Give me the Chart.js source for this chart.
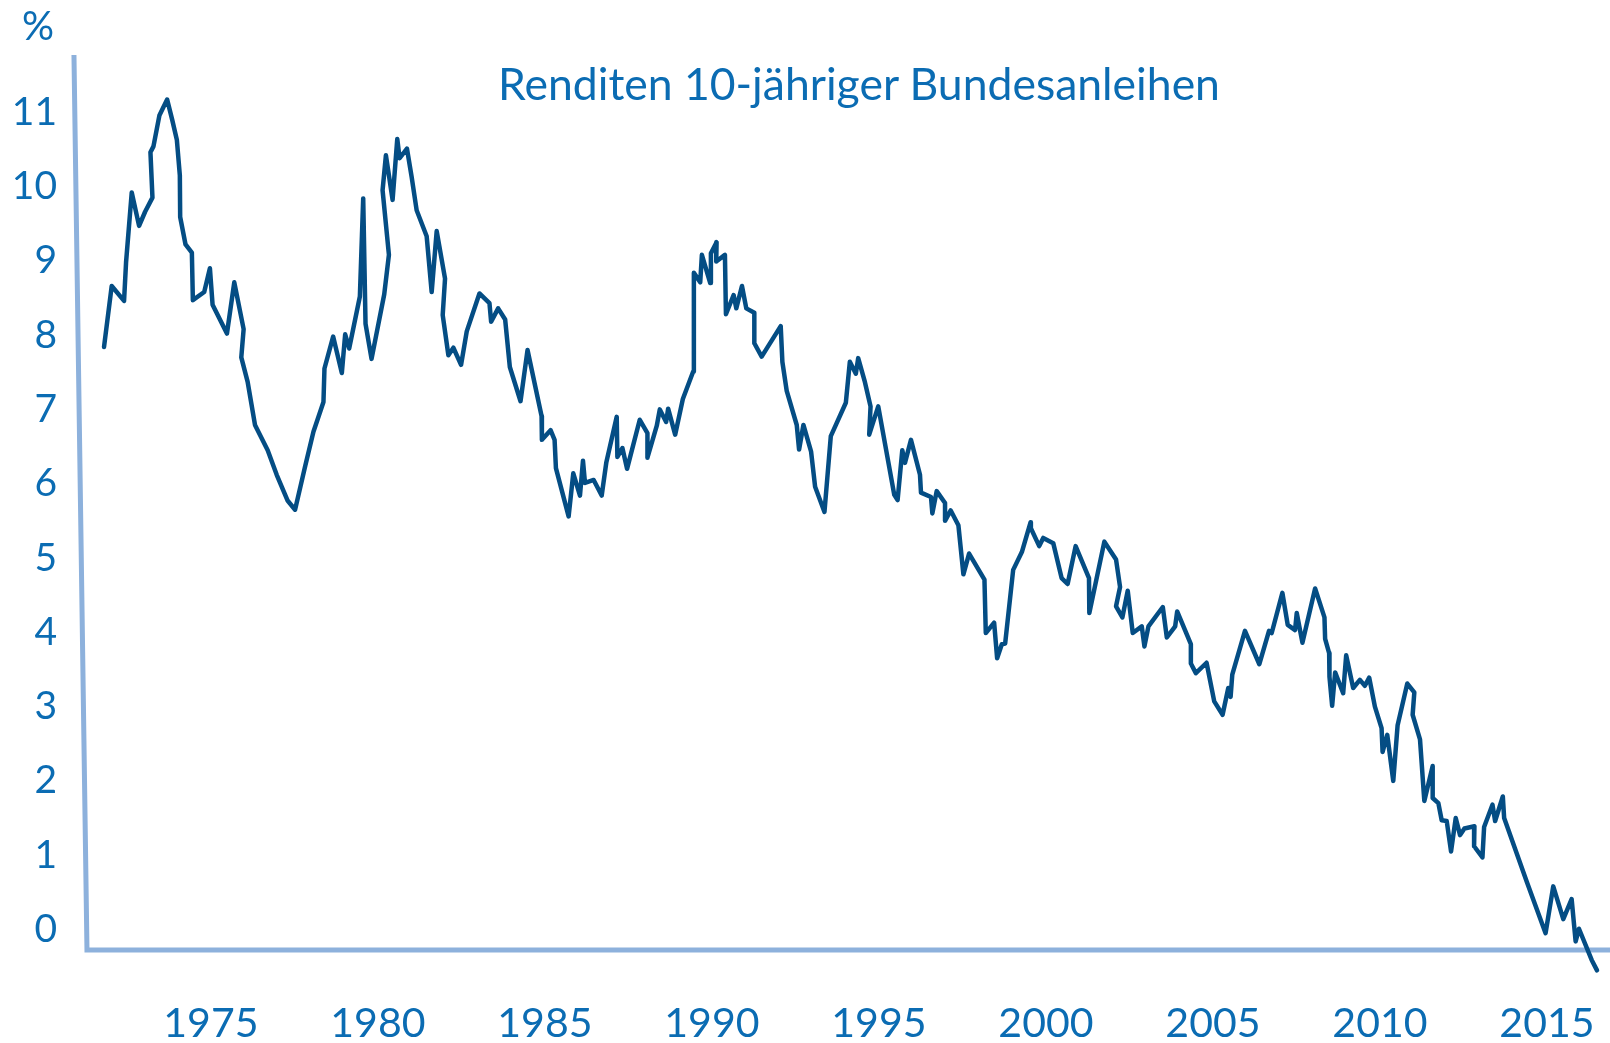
<!DOCTYPE html>
<html>
<head>
<meta charset="utf-8">
<script src="https://cdn.jsdelivr.net/npm/chart.js@4.4.1/dist/chart.umd.min.js"></script>
<style>
  html, body { margin: 0; padding: 0; background: #ffffff; }
  #wrap { position: relative; width: 1610px; height: 1043px; overflow: hidden; }
  #c { display: block; }
  .txt { position: absolute; font-family: Lato, "Open Sans", sans-serif; color: #0B6CB3; white-space: nowrap; text-align: center; }
  #title { left: 0; width: 1718px; top: 61px; font-size: 44.5px; line-height: 44.5px; }
  #unit { left: 0; width: 76px; top: 5px; font-size: 40px; line-height: 40px; }
</style>
</head>
<body>
<div id="wrap">
  <canvas id="c" width="1610" height="1043"></canvas>
  <div id="title" class="txt">Renditen 10-jähriger Bundesanleihen</div>
  <div id="unit" class="txt">%</div>
</div>
<script>
// ---- data (decimal year, yield in %) ----
const years = [
  1971.80, 1972.03, 1972.40, 1972.46, 1972.63, 1972.85, 1973.03, 1973.25, 1973.19, 1973.28,
  1973.46, 1973.69, 1973.84, 1973.98, 1974.07, 1974.08, 1974.24, 1974.43, 1974.46, 1974.80,
  1974.97, 1975.05, 1975.48, 1975.70, 1975.98, 1975.91, 1976.10, 1976.32, 1976.70, 1976.97,
  1977.30, 1977.52, 1977.82, 1978.07, 1978.37, 1978.40, 1978.66, 1978.92, 1979.02, 1979.14,
  1979.46, 1979.56, 1979.63, 1979.81, 1980.19, 1980.33, 1980.14, 1980.24, 1980.44, 1980.58,
  1980.65, 1980.87, 1981.01, 1981.16, 1981.46, 1981.61, 1981.76, 1982.01, 1981.94, 1982.11,
  1982.26, 1982.49, 1982.66, 1983.04, 1983.34, 1983.39, 1983.60, 1983.81, 1983.95, 1984.27,
  1984.48, 1984.90, 1984.91, 1985.17, 1985.29, 1985.33, 1985.71, 1985.85, 1986.05, 1986.14,
  1986.20, 1986.46, 1986.70, 1986.84, 1987.15, 1987.17, 1987.32, 1987.46, 1987.84, 1988.07,
  1988.07, 1988.35, 1988.44, 1988.63, 1988.69, 1988.90, 1989.13, 1989.44, 1989.46, 1989.65,
  1989.70, 1989.95, 1989.97, 1990.14, 1990.13, 1990.39, 1990.42, 1990.65, 1990.73, 1990.90,
  1991.03, 1991.27, 1991.27, 1991.49, 1992.06, 1992.11, 1992.24, 1992.54, 1992.61, 1992.74,
  1992.97, 1993.09, 1993.37, 1993.56, 1994.01, 1994.13, 1994.31, 1994.38, 1994.58, 1994.75,
  1994.71, 1994.98, 1995.46, 1995.56, 1995.70, 1995.78, 1995.96, 1996.23, 1996.26, 1996.56,
  1996.60, 1996.73, 1996.98, 1996.98, 1997.15, 1997.38, 1997.53, 1997.70, 1998.16, 1998.20,
  1998.45, 1998.54, 1998.68, 1998.78, 1999.02, 1999.28, 1999.54, 1999.55, 1999.80, 1999.92,
  2000.22, 2000.47, 2000.65, 2000.89, 2001.29, 2001.30, 2001.75, 2002.10, 2002.22, 2002.10,
  2002.29, 2002.45, 2002.60, 2002.87, 2002.95, 2003.07, 2003.50, 2003.62, 2003.87, 2003.93,
  2004.34, 2004.34, 2004.49, 2004.81, 2005.04, 2005.29, 2005.46, 2005.53, 2005.58, 2005.96,
  2006.39, 2006.68, 2006.76, 2007.08, 2007.24, 2007.46, 2007.51, 2007.68, 2008.06, 2008.34,
  2008.36, 2008.48, 2008.49, 2008.57, 2008.66, 2008.90, 2008.99, 2009.20, 2009.40, 2009.55,
  2009.68, 2009.85, 2010.05, 2010.08, 2010.22, 2010.40, 2010.53, 2010.82, 2011.03, 2010.98,
  2011.20, 2011.33, 2011.58, 2011.58, 2011.75, 2011.85, 2012.00, 2012.13, 2012.27, 2012.40,
  2012.53, 2012.83, 2012.82, 2013.07, 2013.12, 2013.37, 2013.45, 2013.68, 2013.72, 2014.40,
  2014.96, 2015.19, 2015.49, 2015.74, 2015.86, 2015.96, 2016.34, 2016.50
];
const yields = [
  7.84, 8.66, 8.46, 8.98, 9.92, 9.47, 9.66, 9.85, 10.46, 10.54,
  10.96, 11.17, 10.90, 10.63, 10.15, 9.59, 9.22, 9.11, 8.47, 8.58,
  8.90, 8.41, 8.02, 8.71, 8.08, 7.70, 7.37, 6.79, 6.45, 6.12,
  5.77, 5.65, 6.23, 6.70, 7.10, 7.55, 7.98, 7.49, 8.01, 7.82,
  8.52, 9.84, 8.15, 7.68, 8.55, 9.08, 9.95, 10.42, 9.82, 10.64,
  10.38, 10.51, 10.13, 9.68, 9.33, 8.58, 9.40, 8.76, 8.27, 7.73,
  7.83, 7.60, 8.05, 8.56, 8.43, 8.18, 8.36, 8.21, 7.57, 7.11,
  7.80, 6.91, 6.59, 6.72, 6.59, 6.21, 5.56, 6.14, 5.84, 6.31,
  6.01, 6.05, 5.84, 6.29, 6.90, 6.36, 6.48, 6.20, 6.86, 6.68,
  6.35, 6.78, 7.00, 6.83, 7.01, 6.66, 7.14, 7.51, 8.84, 8.71,
  9.08, 8.70, 9.10, 9.25, 8.99, 9.08, 8.28, 8.54, 8.36, 8.66,
  8.36, 8.30, 7.89, 7.71, 8.12, 7.64, 7.25, 6.79, 6.46, 6.79,
  6.43, 5.96, 5.62, 6.64, 7.09, 7.64, 7.48, 7.69, 7.37, 7.04,
  6.66, 7.04, 5.85, 5.78, 6.45, 6.28, 6.59, 6.12, 5.88, 5.82,
  5.60, 5.90, 5.74, 5.50, 5.64, 5.44, 4.78, 5.06, 4.71, 3.99,
  4.13, 3.65, 3.84, 3.85, 4.84, 5.08, 5.48, 5.40, 5.16, 5.27,
  5.20, 4.73, 4.65, 5.16, 4.73, 4.26, 5.22, 4.98, 4.61, 4.35,
  4.20, 4.56, 3.99, 4.08, 3.81, 4.08, 4.34, 3.93, 4.08, 4.28,
  3.84, 3.58, 3.45, 3.59, 3.07, 2.89, 3.25, 3.13, 3.43, 4.02,
  3.57, 4.02, 3.99, 4.53, 4.10, 4.03, 4.26, 3.86, 4.59, 4.20,
  3.91, 3.72, 3.40, 3.01, 3.46, 3.18, 3.69, 3.25, 3.36, 3.28,
  3.39, 3.00, 2.71, 2.39, 2.62, 2.00, 2.75, 3.31, 3.19, 2.89,
  2.56, 1.73, 2.20, 1.77, 1.70, 1.47, 1.46, 1.05, 1.50, 1.27,
  1.36, 1.39, 1.12, 0.97, 1.38, 1.68, 1.46, 1.79, 1.50, 0.64,
  -0.05, 0.58, 0.14, 0.41, -0.16, 0.01, -0.41, -0.55
];
const xTickYears = [1975, 1980, 1985, 1990, 1995, 2000, 2005, 2010, 2015];
const yTickValues = [0, 1, 2, 3, 4, 5, 6, 7, 8, 9, 10, 11];

// ---- styling / layout constants ----
const TEXT_COLOR = '#0B6CB3';
const LINE_COLOR = '#044D84';
const AXIS_COLOR = '#8DB1DC';
const X_MIN = 1970.482, X_MAX = 2016.889;
const Y_MIN = -0.70, Y_MAX = 12.51;
const AXIS_TOP = { x: 1970.90, y: 11.77 };
const AXIS_CORNER = { x: 1971.29, y: -0.275 };

const axisLines = {
  id: 'axisLines',
  beforeDatasetsDraw(chart) {
    const { ctx, scales: { x, y } } = chart;
    ctx.save();
    ctx.strokeStyle = AXIS_COLOR;
    ctx.lineWidth = 5;
    ctx.lineJoin = 'miter';
    ctx.lineCap = 'butt';
    ctx.beginPath();
    ctx.moveTo(x.getPixelForValue(AXIS_TOP.x), y.getPixelForValue(AXIS_TOP.y));
    ctx.lineTo(x.getPixelForValue(AXIS_CORNER.x), y.getPixelForValue(AXIS_CORNER.y));
    ctx.lineTo(chart.width, y.getPixelForValue(AXIS_CORNER.y));
    ctx.stroke();
    ctx.restore();
  }
};

const points = years.map((yr, i) => ({ x: yr, y: yields[i] }));

new Chart(document.getElementById('c'), {
  type: 'line',
  data: {
    datasets: [{
      data: points,
      borderColor: LINE_COLOR,
      borderWidth: 4.5,
      borderJoinStyle: 'round',
      borderCapStyle: 'round',
      pointRadius: 0,
      pointHoverRadius: 0,
      fill: false,
      tension: 0,
      clip: false
    }]
  },
  options: {
    responsive: false,
    animation: false,
    devicePixelRatio: 1,
    layout: { padding: 0 },
    plugins: {
      legend: { display: false },
      tooltip: { enabled: false },
      title: { display: false }
    },
    events: [],
    scales: {
      x: {
        type: 'linear',
        min: X_MIN,
        max: X_MAX,
        grid: { display: false, drawTicks: false },
        border: { display: false },
        afterBuildTicks: (s) => { s.ticks = xTickYears.map(v => ({ value: v })); },
        afterFit: (s) => { s.height = 61.5; s.paddingLeft = 0; s.paddingRight = 0; },
        ticks: {
          autoSkip: false,
          maxRotation: 0,
          minRotation: 0,
          padding: 18,
          color: TEXT_COLOR,
          font: { family: 'Lato', size: 41 },
          callback: (v) => String(v)
        }
      },
      y: {
        type: 'linear',
        min: Y_MIN,
        max: Y_MAX,
        grid: { display: false, drawTicks: false },
        border: { display: false },
        afterBuildTicks: (s) => { s.ticks = yTickValues.map(v => ({ value: v })); },
        afterFit: (s) => { s.width = 60; s.paddingTop = 0; s.paddingBottom = 0; },
        ticks: {
          padding: 3,
          color: TEXT_COLOR,
          font: { family: 'Lato', size: 39 },
          callback: (v) => String(v)
        }
      }
    }
  },
  plugins: [axisLines]
});
</script>
</body>
</html>
